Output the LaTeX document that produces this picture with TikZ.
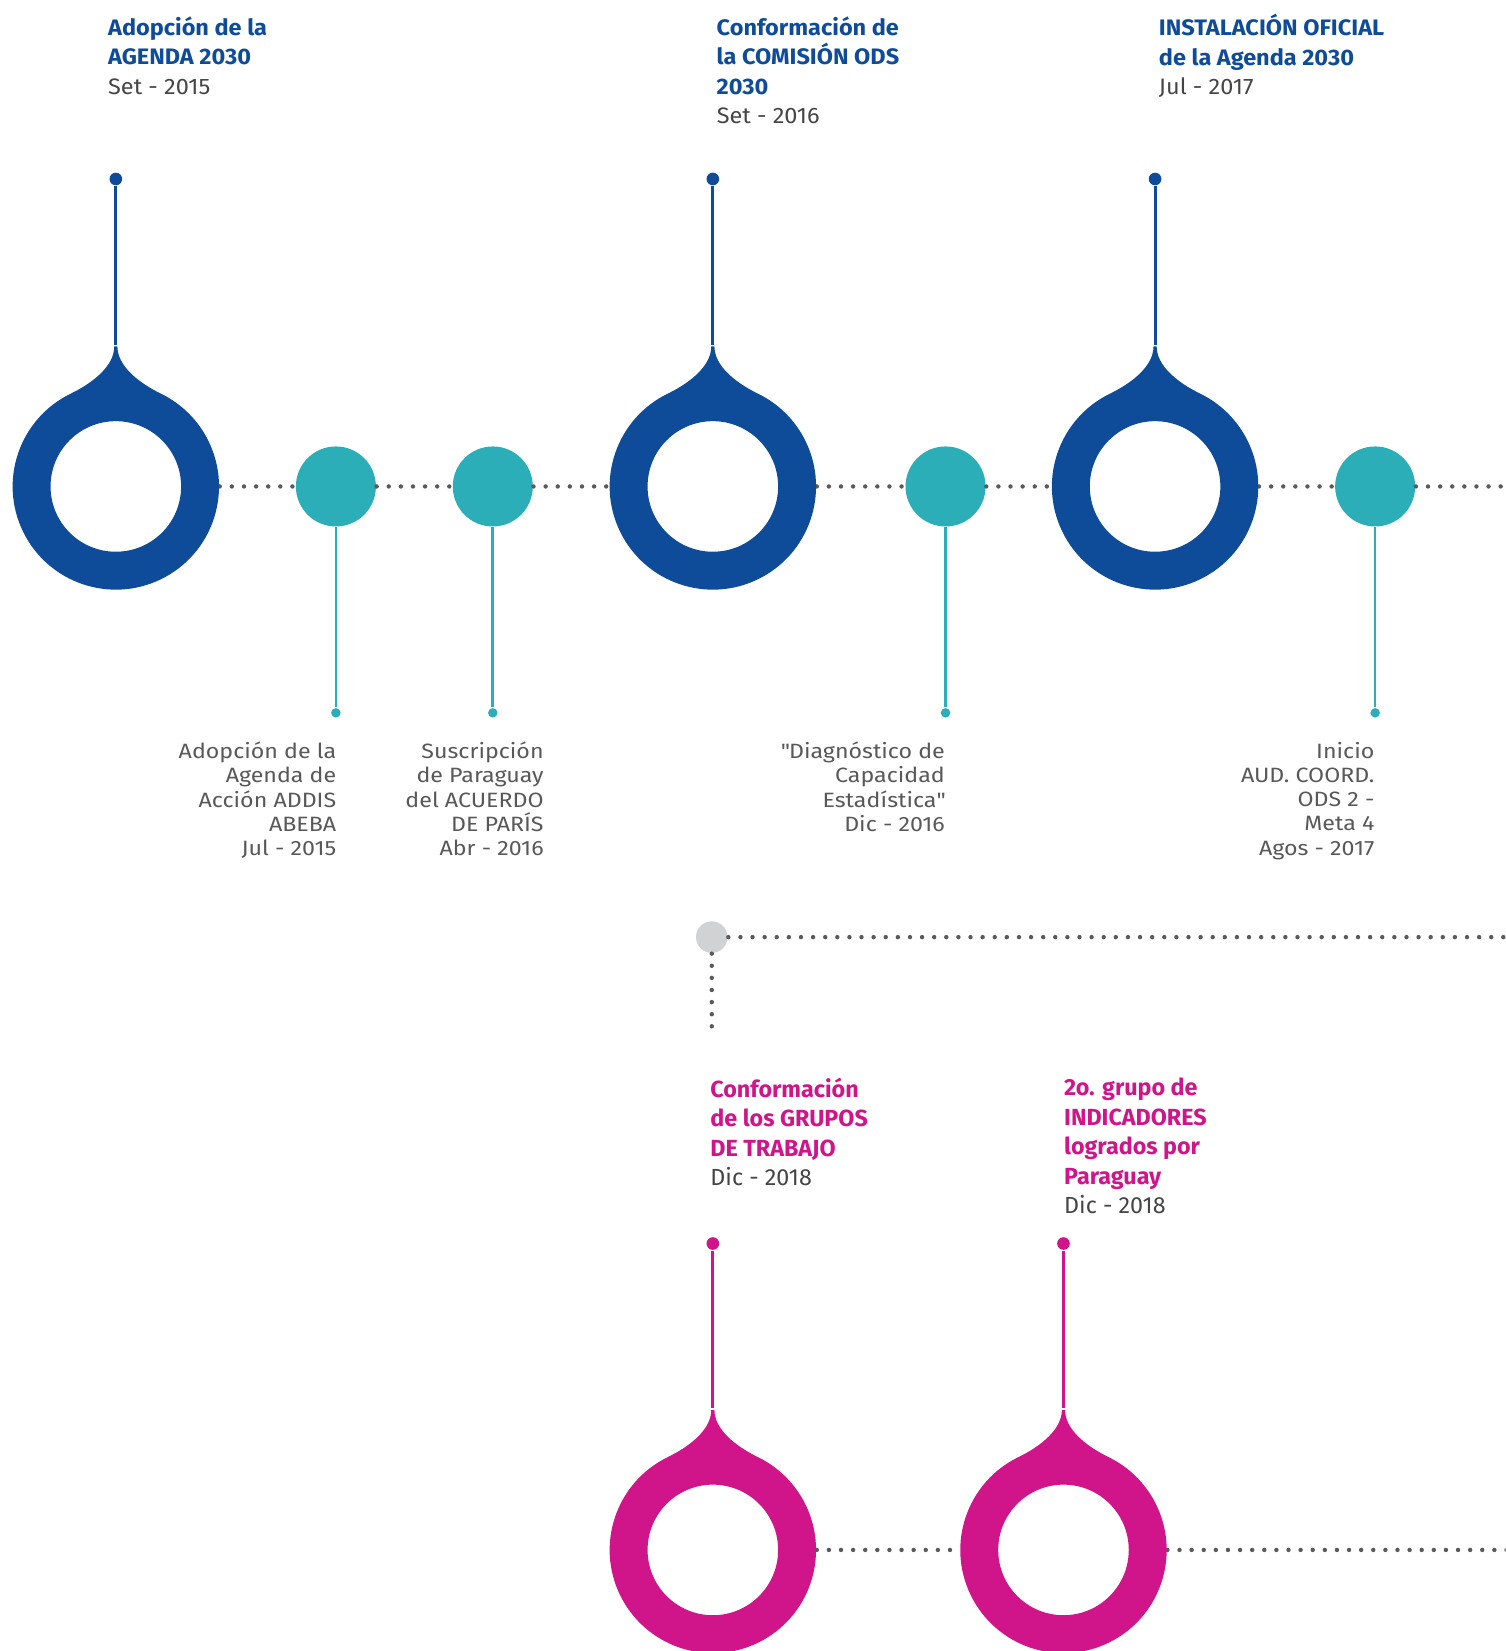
\documentclass[tikz,border=0pt]{standalone}
\usepackage{fontspec}
\setmainfont{Fira Sans}
\newfontfamily\headfont[FakeStretch=1.05]{Fira Sans}
\newfontfamily\widefont[FakeStretch=1.12]{Fira Sans}
\usetikzlibrary{positioning,calc}

\definecolor{blueods}{HTML}{0E4C9A}
\definecolor{tealods}{HTML}{2CAEB9}
\definecolor{pinkods}{HTML}{D0158A}
\definecolor{dotgray}{HTML}{5A5A5A}
\definecolor{textgray}{HTML}{454545}
\definecolor{softgray}{HTML}{D1D2D4}

\begin{document}
\begin{tikzpicture}[
	ring/.style={circle, inner sep=0pt, minimum size=1.96cm},
	tealdot/.style={circle, fill=tealods, inner sep=0pt, minimum size=0.76cm},
	pinhead/.style={circle, fill=#1, inner sep=0pt, minimum size=1.2mm},
	tealend/.style={circle, fill=tealods, inner sep=0pt, minimum size=0.9mm},
	graydot/.style={circle, fill=softgray, inner sep=0pt, minimum size=0.3cm},
	dotted line/.style={dotgray, line width=0.042cm, line cap=round, dash pattern=on 0pt off 0.115cm},
	headline/.style={anchor=north west, inner sep=0pt, align=left, text=#1, font=\headfont\fontsize{6.05}{7.97}\selectfont\bfseries},
	pinkline/.style={anchor=north west, inner sep=0pt, align=left, text=pinkods, font=\fontsize{6.3}{7.97}\selectfont\bfseries},
	note/.style={anchor=north east, inner sep=0pt, align=right, text=textgray!90, font=\widefont\fontsize{5.6}{6.55}\selectfont},
	pics/drop/.style={code={
		\fill[#1, even odd rule] (-0.015,1.33) .. controls (-0.015,1.15) and (-0.205,0.99) .. (116:0.98)
			arc[start angle=116, end angle=424, radius=0.98]
			.. controls (0.205,0.99) and (0.015,1.15) .. (0.015,1.33) -- cycle
			(0,0) circle[radius=0.62];
	}}
]
	\useasboundingbox (0,0) rectangle (14.30,-15.68);
	\clip (0,0) rectangle (14.30,-15.68);

	% first row
	\node[ring] (r1) at (1.10,-4.62) {};
	\node[ring] (r2) at (6.77,-4.62) {};
	\node[ring] (r3) at (10.97,-4.62) {};
	\node[tealdot] (t1) at (3.19,-4.62) {};
	\node[tealdot] (t2) at (4.68,-4.62) {};
	\node[tealdot] (t3) at (8.98,-4.62) {};
	\node[tealdot] (t4) at (13.06,-4.62) {};
	\coordinate (rowend) at (14.35,-4.62);

	\draw[dotted line] (r1) -- (t1) (t1) -- (t2) (t2) -- (r2) (r2) -- (t3) (t3) -- (r3) (r3) -- (t4) (t4) -- (rowend);

	\pic at (r1) {drop=blueods};
	\pic at (r2) {drop=blueods};
	\pic at (r3) {drop=blueods};

	\node[pinhead=blueods] (p1) at (1.10,-1.70) {};
	\node[pinhead=blueods] (p2) at (6.77,-1.70) {};
	\node[pinhead=blueods] (p3) at (10.97,-1.70) {};
	\draw[blueods, line width=0.03cm] (p1) -- ([yshift=0.36cm]r1.north) (p2) -- ([yshift=0.36cm]r2.north) (p3) -- ([yshift=0.36cm]r3.north);

	\node[tealend] (e1) at (3.19,-6.77) {};
	\node[tealend] (e2) at (4.68,-6.77) {};
	\node[tealend] (e3) at (8.98,-6.77) {};
	\node[tealend] (e4) at (13.06,-6.77) {};
	\draw[tealods, line width=0.025cm] (t1) -- (e1) (t2) -- (e2) (t3) -- (e3) (t4) -- (e4);

	\node[headline=blueods] (h1) at (1.02,-0.15) {Adopción de la\\AGENDA 2030\\\textcolor{textgray}{\mdseries Set - 2015}};
	\node[headline=blueods] (h2) at (6.80,-0.15) {Conformación de\\la COMISIÓN ODS\\2030\\\textcolor{textgray}{\mdseries Set - 2016}};
	\node[headline=blueods] (h3) at (11.00,-0.13) {INSTALACIÓN OFICIAL\\de la Agenda 2030\\\textcolor{textgray}{\mdseries Jul - 2017}};

	\node[note] (n1) at (3.20,-7.04) {Adopción de la\\Agenda de\\Acción ADDIS\\ABEBA\\Jul - 2015};
	\node[note] (n2) at (5.17,-7.04) {Suscripción\\de Paraguay\\del ACUERDO\\DE PARÍS\\Abr - 2016};
	\node[note] (n3) at (8.98,-7.04) {\textquotedbl Diagnóstico de\\Capacidad\\Estadística\textquotedbl\\Dic - 2016};
	\node[note] (n4) at (13.06,-7.04) {Inicio\\AUD. COORD.\\ODS 2 -\\Meta 4\\Agos - 2017};

	% turn to the second row
	\node[graydot] (g) at (6.76,-8.90) {};
	\coordinate (gend) at (14.35,-8.90);
	\coordinate (gdown) at (6.76,-9.85);
	\draw[dotted line] (g) -- (gend);
	\draw[dotted line] (g) -- (gdown);

	% second row
	\node[ring] (q1) at (6.77,-14.72) {};
	\node[ring] (q2) at (10.10,-14.72) {};
	\coordinate (qend) at (14.35,-14.72);
	\draw[dotted line] (q1) -- (q2) (q2) -- (qend);
	\pic at (q1) {drop=pinkods};
	\pic at (q2) {drop=pinkods};

	\node[pinhead=pinkods] (k1) at (6.77,-11.81) {};
	\node[pinhead=pinkods] (k2) at (10.10,-11.81) {};
	\draw[pinkods, line width=0.03cm] (k1) -- ([yshift=0.36cm]q1.north) (k2) -- ([yshift=0.36cm]q2.north);

	\node[pinkline] (m1) at (6.74,-10.23) {Conformación\\de los GRUPOS\\DE TRABAJO\\\textcolor{textgray}{\mdseries Dic - 2018}};
	\node[pinkline] (m2) at (10.10,-10.23) {2o. grupo de\\INDICADORES\\logrados por\\Paraguay\\\textcolor{textgray}{\mdseries Dic - 2018}};
\end{tikzpicture}
\end{document}
